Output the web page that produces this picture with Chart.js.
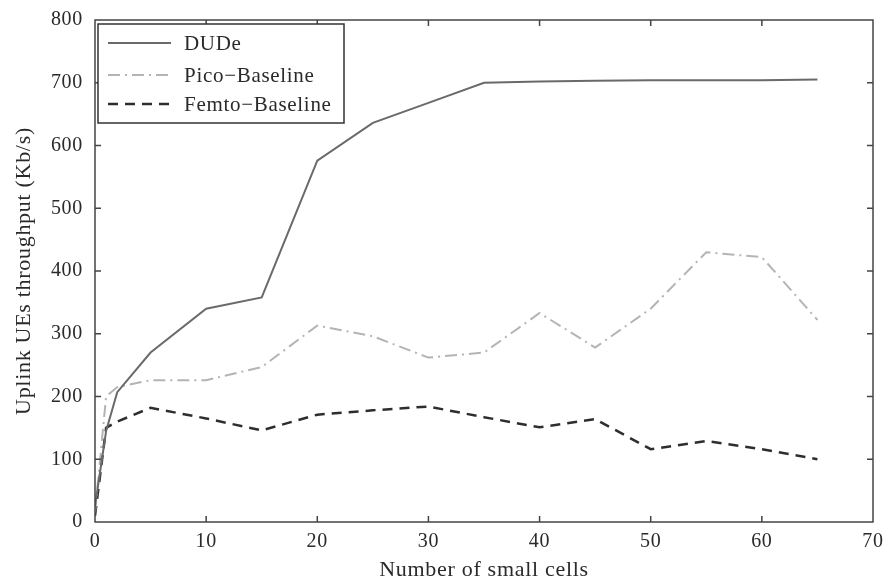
<!DOCTYPE html>
<html lang="en">

<head>
    <meta charset="UTF-8">
    <title>Uplink UEs throughput</title>
    <style>
        html, body { margin: 0; padding: 0; background: #fff; }
        #wrap { width: 884px; height: 583px; }
    </style>
</head>

<body>
    <div id="wrap"><canvas id="myChart"></canvas></div>
    <script src="https://cdn.jsdelivr.net/npm/chart.js@4/dist/chart.umd.min.js"></script>
    <script>
        // number of small cells
        const cells = [0, 1, 2, 5, 10, 15, 20, 25, 30, 35, 40, 45, 50, 55, 60, 65]
        // throughput in Kb/s
        const dude = [25, 145, 207, 270, 340, 358, 576, 636, 668, 700, 702, 703, 704, 704, 704, 705]
        const pico = [15, 200, 215, 226, 226, 247, 313, 296, 262, 270, 333, 278, 340, 430, 422, 322]
        const femto = [10, 150, 160, 182, 165, 146, 171, 178, 184, 167, 151, 164, 116, 129, 116, 100]
        const seriesNames = ['DUDe', 'Pico\u2212Baseline', 'Femto\u2212Baseline']

        const serif = '"Liberation Serif", "DejaVu Serif", serif'
        const textColor = '#2a2a2a'
        const toPoints = (ys) => cells.map((x, i) => ({ x: x, y: ys[i] }))

        // the print font is a bit wider than Liberation Serif
        const spacingPlugin = {
            id: 'spacing',
            beforeDraw(chart) { chart.ctx.letterSpacing = '0.7px' }
        }

        // box round the plot, ticks pointing inwards, legend with a frame
        const framePlugin = {
            id: 'frame',
            afterDraw(chart) {
                const ctx = chart.ctx
                const a = chart.chartArea
                const xs = chart.scales.x
                const ys = chart.scales.y
                ctx.save()
                ctx.strokeStyle = '#444'
                ctx.lineWidth = 1.5
                ctx.strokeRect(a.left, a.top, a.right - a.left, a.bottom - a.top)
                const len = 6
                ctx.beginPath()
                for (let v = 10; v < 70; v += 10) {
                    const px = xs.getPixelForValue(v)
                    ctx.moveTo(px, a.bottom); ctx.lineTo(px, a.bottom - len)
                    ctx.moveTo(px, a.top); ctx.lineTo(px, a.top + len)
                }
                for (let v = 100; v < 800; v += 100) {
                    const py = ys.getPixelForValue(v)
                    ctx.moveTo(a.left, py); ctx.lineTo(a.left + len, py)
                    ctx.moveTo(a.right, py); ctx.lineTo(a.right - len, py)
                }
                ctx.stroke()

                // legend
                const bx = a.left + 3, by = a.top + 4, bw = 246, bh = 99
                ctx.fillStyle = '#fff'
                ctx.fillRect(bx, by, bw, bh)
                ctx.strokeStyle = '#333'
                ctx.lineWidth = 1.5
                ctx.strokeRect(bx, by, bw, bh)
                const rows = [19, 51, 80]
                chart.data.datasets.forEach((ds, i) => {
                    const y = by + rows[i]
                    ctx.strokeStyle = ds.borderColor
                    ctx.lineWidth = ds.borderWidth
                    ctx.setLineDash(ds.borderDash || [])
                    ctx.beginPath()
                    ctx.moveTo(bx + 10, y)
                    ctx.lineTo(bx + 73, y)
                    ctx.stroke()
                    ctx.setLineDash([])
                    ctx.fillStyle = textColor
                    ctx.font = '21px ' + serif
                    ctx.textBaseline = 'middle'
                    ctx.textAlign = 'left'
                    ctx.fillText(ds.label, bx + 86, y + 1)
                })
                ctx.restore()
            }
        }

        const ctx = document.querySelector('#myChart').getContext('2d')
        let chart = new Chart(ctx, {
            type: 'line',
            data: {
                datasets: [{
                    label: seriesNames[0],
                    data: toPoints(dude),
                    borderColor: '#6a6a6a',
                    borderWidth: 2,
                    pointRadius: 0,
                    tension: 0
                }, {
                    label: seriesNames[1],
                    data: toPoints(pico),
                    borderColor: '#b4b4b4',
                    borderWidth: 2,
                    borderDash: [12, 5, 2, 5],
                    pointRadius: 0,
                    tension: 0
                }, {
                    label: seriesNames[2],
                    data: toPoints(femto),
                    borderColor: '#2e2e2e',
                    borderWidth: 2.5,
                    borderDash: [10, 7],
                    pointRadius: 0,
                    tension: 0
                }]
            },
            options: {
                responsive: true,
                maintainAspectRatio: false,
                animation: false,
                layout: { padding: { top: 20, right: 11, left: 0, bottom: 0 } },
                plugins: {
                    legend: { display: false },
                    tooltip: { enabled: false }
                },
                scales: {
                    x: {
                        type: 'linear',
                        min: 0,
                        max: 70,
                        ticks: { stepSize: 10, padding: 8, color: textColor, font: { family: serif, size: 20 } },
                        grid: { drawOnChartArea: false, drawTicks: false },
                        border: { display: false },
                        title: {
                            display: true,
                            text: 'Number of small cells',
                            color: textColor,
                            font: { family: serif, size: 22 },
                            padding: { top: 0, bottom: 0 }
                        },
                        afterFit(scale) {
                            scale.height = 61
                            scale.paddingLeft = 0
                            scale.paddingRight = 0
                        }
                    },
                    y: {
                        min: 0,
                        max: 800,
                        ticks: { stepSize: 100, padding: 12, color: textColor, font: { family: serif, size: 20 } },
                        grid: { drawOnChartArea: false, drawTicks: false },
                        border: { display: false },
                        title: {
                            display: true,
                            text: 'Uplink UEs throughput (Kb/s)',
                            color: textColor,
                            font: { family: serif, size: 22 },
                            padding: { top: 11, bottom: 0 }
                        },
                        afterFit(scale) {
                            scale.width = 95
                            scale.paddingTop = 0
                            scale.paddingBottom = 0
                        }
                    }
                }
            },
            plugins: [spacingPlugin, framePlugin]
        })
    </script>
</body>

</html>
